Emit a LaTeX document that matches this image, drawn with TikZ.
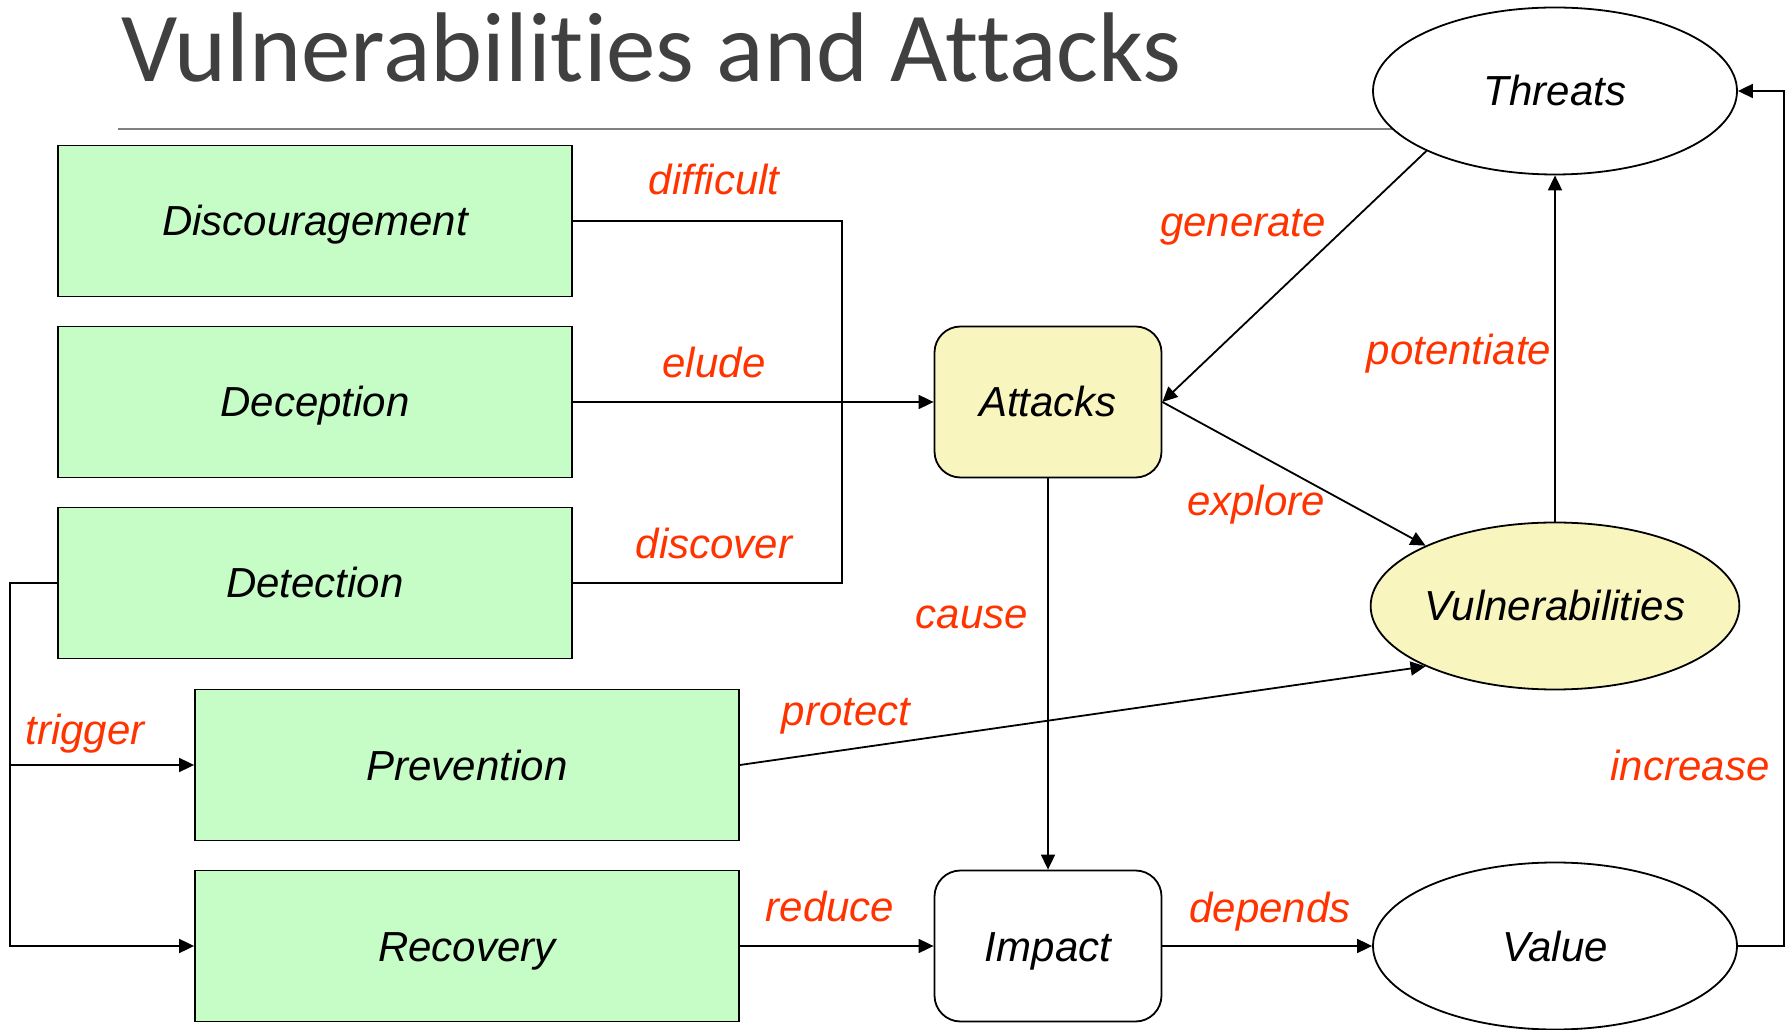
\documentclass[tikz,border=0pt]{standalone}
\usepackage{fontspec}
\setmainfont{Liberation Sans}
\newfontfamily\titlefont[Ligatures={NoCommon},RawFeature={-liga;-dlig}]{Carlito}
\usetikzlibrary{arrows.meta,shapes.geometric}
\definecolor{boxgreen}{RGB}{198,252,198}
\definecolor{boxyellow}{RGB}{248,246,190}
\definecolor{labred}{RGB}{255,51,0}
\definecolor{titlegray}{RGB}{64,64,64}
\definecolor{rulegray}{RGB}{128,128,128}
\begin{document}
\begin{tikzpicture}[x=1pt,y=1pt,
  txt/.style={font=\fontsize{42}{48}\selectfont\itshape, text height=36pt, text depth=6pt},
  gbox/.style={txt, draw, line width=1.8pt, fill=boxgreen, minimum width=514pt, minimum height=151pt, inner sep=0pt},
  rbox/.style={txt, draw, line width=1.8pt, rounded corners=26pt, minimum width=227pt, minimum height=151pt, inner sep=0pt},
  ell/.style={txt, draw, line width=1.8pt, ellipse, fill=white, minimum width=364pt, minimum height=167pt, inner sep=0pt},
  lab/.style={txt, text=labred, inner sep=0pt},
  conn/.style={line width=1.8pt},
  arr/.style={line width=1.8pt, -{Triangle[length=15pt,width=14pt]}}
]
\useasboundingbox (0,0) rectangle (1791,1029);
% title and rule
\node[anchor=base west, font=\titlefont\fontsize{99}{110}\selectfont, text=titlegray, inner sep=0pt] (title) at (121,947) {Vulnerabilities and Attacks};
\coordinate (rl) at (118,900);
\coordinate (rr) at (1450,900);
\draw[rulegray, line width=1.6pt] (rl) -- (rr);
% boxes
\node[gbox] (disc) at (315,808) {Discouragement};
\node[gbox] (dec) at (315,627) {Deception};
\node[gbox] (det) at (315,446) {Detection};
\node[gbox, minimum width=544pt] (prev) at (467,264) {Prevention};
\node[gbox, minimum width=544pt] (rec) at (467,83) {Recovery};
\node[rbox, fill=boxyellow] (att) at (1048,627) {Attacks};
\node[rbox, fill=white] (imp) at (1048,83) {Impact};
\node[ell] (thr) at (1555,938) {Threats};
\node[ell, fill=boxyellow] (vul) at (1555,423) {Vulnerabilities};
\node[ell] (val) at (1555,83) {Value};
% connectors
\coordinate (mj) at (842,627);
\draw[conn] (disc.east) -| (mj);
\draw[conn] (det.east) -| (mj);
\draw[arr] (dec.east) -- (att.west);
\coordinate (lb) at (10,446);
\draw[arr] (det.west) -- (lb) |- (prev.west);
\draw[arr] (lb) |- (rec.west);
\draw[arr] (prev.east) -- (vul.205);
\draw[arr] (rec.east) -- (imp.west);
\draw[arr] (att.south) -- (imp.north);
\draw[arr] (imp.east) -- (val.west);
\coordinate (rb) at (1784,938);
\draw[arr] (val.east) -| (rb) -- (thr.east);
\draw[arr] (vul.north) -- (thr.south);
\draw[arr] (thr.205) -- (att.east);
\draw[arr] (att.east) -- (vul.155);
% labels
\node[lab] (l1) at (714,849) {difficult};
\node[lab] (l2) at (714,666) {elude};
\node[lab] (l3) at (714,485) {discover};
\node[lab] (l4) at (85,300) {trigger};
\node[lab] (l5) at (846,319) {protect};
\node[lab] (l6) at (830,123) {reduce};
\node[lab] (l7) at (972,415) {cause};
\node[lab] (l8) at (1243,807) {generate};
\node[lab] (l9) at (1459,679) {potentiate};
\node[lab] (l10) at (1256,528) {explore};
\node[lab] (l11) at (1690,264) {increase};
\node[lab] (l12) at (1270,122) {depends};
\end{tikzpicture}
\end{document}
